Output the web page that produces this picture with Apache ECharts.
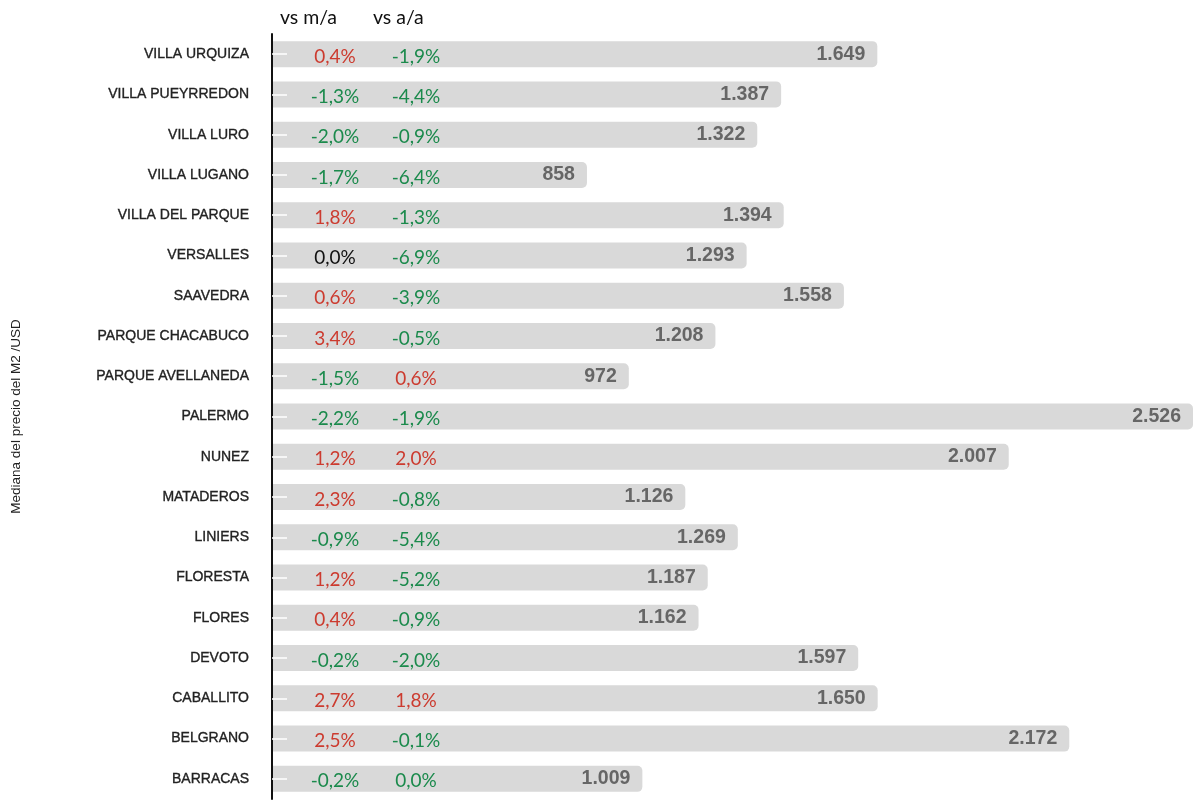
<!DOCTYPE html>
<html>
<head>
<meta charset="utf-8">
<script src="https://cdn.jsdelivr.net/npm/echarts@6/dist/echarts.min.js"></script>
<style>html,body{margin:0;padding:0;background:#fff}#c{width:1196px;height:801px}</style>
</head>
<body>
<div id="c"></div>
<script>
const categories = ["VILLA URQUIZA","VILLA PUEYRREDON","VILLA LURO","VILLA LUGANO","VILLA DEL PARQUE","VERSALLES","SAAVEDRA","PARQUE CHACABUCO","PARQUE AVELLANEDA","PALERMO","NUNEZ","MATADEROS","LINIERS","FLORESTA","FLORES","DEVOTO","CABALLITO","BELGRANO","BARRACAS"];
const priceM2 = [1649,1387,1322,858,1394,1293,1558,1208,972,2526,2007,1126,1269,1187,1162,1597,1650,2172,1009];
const vsMonth = [0.4,-1.3,-2.0,-1.7,1.8,0.0,0.6,3.4,-1.5,-2.2,1.2,2.3,-0.9,1.2,0.4,-0.2,2.7,2.5,-0.2];
const vsYear = [-1.9,-4.4,-0.9,-6.4,-1.3,-6.9,-3.9,-0.5,0.6,-1.9,2.0,-0.8,-5.4,-5.2,-0.9,-2.0,1.8,-0.1,-0];
const headers = ["vs m/a","vs a/a"];
const axisName = "Mediana del precio del M2 /USD";

function fmtPct(v){ return Math.abs(v).toFixed(1).replace('.', ',') + '%'; }
function pctTag(v){
  if (v > 0) return 'r';
  if (v < 0 || Object.is(v, -0)) return 'g';
  return 'k';
}
function pctText(v){ return (v < 0 ? '-' : '') + fmtPct(v); }
function fmtNum(v){ return String(v).replace(/\B(?=(\d{3})+(?!\d))/g, '.'); }

const pctFont = {fontFamily:'Lato', fontSize:19, align:'center', padding:[5,0,0,0]};
const chart = echarts.init(document.getElementById('c'), null, {renderer:'canvas'});
chart.setOption({
  animation:false,
  grid:{left:272, right:3, top:34, bottom:2, containLabel:false},
  xAxis:{type:'value', min:0, max:2509, show:false},
  yAxis:[{
    type:'category', data:categories, inverse:true, z:10,
    name:axisName, nameLocation:'middle', nameGap:249, nameRotate:90,
    nameTextStyle:{fontFamily:'Liberation Sans', fontSize:13.5, color:'#222'},
    axisLine:{show:true, lineStyle:{color:'#111', width:2}},
    axisTick:{show:true, inside:true, length:15, alignWithLabel:true, lineStyle:{color:'#fff', width:1.5}},
    axisLabel:{margin:23, fontFamily:'Liberation Sans', fontSize:14, color:'#222',
      textBorderColor:'#222', textBorderWidth:0.35}
  },{
    type:'category', data:categories, inverse:true, position:'left', z:10,
    axisLine:{show:false}, axisTick:{show:false},
    axisLabel:{
      inside:true, margin:22,
      formatter:function(val, idx){
        const a = vsMonth[idx], b = vsYear[idx];
        return '{' + pctTag(a) + '1|' + pctText(a) + '}{' + pctTag(b) + '2|' + pctText(b) + '}';
      },
      rich:{
        r1:Object.assign({color:'#cc3b2f', width:82}, pctFont),
        g1:Object.assign({color:'#1b8a4c', width:82}, pctFont),
        k1:Object.assign({color:'#111', width:82}, pctFont),
        r2:Object.assign({color:'#cc3b2f', width:80}, pctFont),
        g2:Object.assign({color:'#1b8a4c', width:80}, pctFont),
        k2:Object.assign({color:'#111', width:80}, pctFont)
      }
    }
  }],
  graphic:[
    {type:'text', left:280, top:8, style:{text:headers[0], font:'19.5px Lato', fill:'#111'}},
    {type:'text', left:373, top:8, style:{text:headers[1], font:'19.5px Lato', fill:'#111'}}
  ],
  series:[{
    type:'bar', data:priceM2, barWidth:26, yAxisIndex:0,
    itemStyle:{color:'#d9d9d9', borderRadius:[0,5,5,0]},
    label:{show:true, position:'insideRight', distance:12, color:'#666', fontFamily:'Liberation Sans', fontWeight:'bold', fontSize:19.5,
      padding:[3,0,0,0],
      formatter:function(p){ return fmtNum(p.value); }}
  }]
});
</script>
</body>
</html>
